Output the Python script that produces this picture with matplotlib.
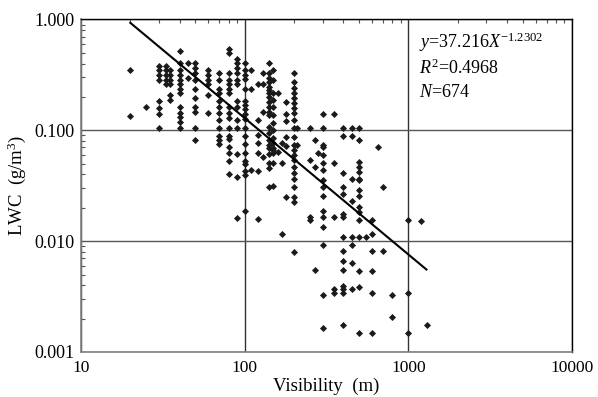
import numpy as np
import matplotlib.pyplot as plt
from matplotlib.ticker import LogLocator, FixedLocator, FixedFormatter, NullFormatter

plt.rcParams['font.family'] = 'Liberation Serif'
plt.rcParams['mathtext.fontset'] = 'custom'
plt.rcParams['mathtext.rm'] = 'Liberation Serif'
plt.rcParams['mathtext.it'] = 'Liberation Serif:italic'

# visibility classes (m) and the LWC values (g/m3) read in each column
vis = [20, 25, 30, 33, 35, 40, 45, 50, 60, 70, 80, 90, 100, 110, 120, 130,
       140, 150, 160, 170, 180, 200, 210, 250, 270, 280, 300, 350, 400, 450,
       500, 550, 600, 650, 700, 800, 1000, 1200, 1300]
lwc = [
    [0.348, 0.135],
    [0.162],
    [0.383, 0.348, 0.315, 0.286, 0.185, 0.160, 0.140, 0.105],
    [0.383, 0.348, 0.315, 0.286, 0.262],
    [0.348, 0.315, 0.286, 0.262, 0.210, 0.188],
    [0.516, 0.402, 0.348, 0.315, 0.286, 0.262, 0.237, 0.216, 0.162, 0.143,
     0.132, 0.119, 0.105],
    [0.402, 0.294],
    [0.402, 0.365, 0.327, 0.286, 0.237, 0.197, 0.162, 0.147, 0.105, 0.082],
    [0.348, 0.315, 0.286, 0.262, 0.207, 0.143],
    [0.331, 0.286, 0.237, 0.216, 0.185, 0.163, 0.143, 0.124, 0.105, 0.088,
     0.082, 0.076],
    [0.538, 0.495, 0.331, 0.286, 0.262, 0.237, 0.216, 0.162, 0.143, 0.128,
     0.105, 0.088, 0.084, 0.071, 0.062, 0.053, 0.040],
    [0.437, 0.402, 0.365, 0.331, 0.286, 0.262, 0.185, 0.162, 0.124, 0.105,
     0.061, 0.038, 0.0163],
    [0.405, 0.350, 0.315, 0.290, 0.236, 0.184, 0.169, 0.156, 0.141, 0.127,
     0.105, 0.089, 0.075, 0.0624, 0.0529, 0.0497, 0.0429, 0.0395, 0.0187],
    [0.350, 0.236, 0.0438],
    [0.261, 0.124, 0.091, 0.0767, 0.0624, 0.0429, 0.016],
    [0.327, 0.261, 0.145, 0.0578],
    [0.402, 0.327, 0.294, 0.274, 0.247, 0.231, 0.216, 0.199, 0.181, 0.164,
     0.145, 0.138, 0.108, 0.0943, 0.0817, 0.0731, 0.0688, 0.0611, 0.0510,
     0.0454, 0.031],
    [0.350, 0.287, 0.216, 0.188, 0.164, 0.138, 0.116, 0.101, 0.0846, 0.0767,
     0.0688, 0.0664, 0.0619, 0.0510, 0.0314],
    [0.216, 0.064],
    [0.0767, 0.0510, 0.0116],
    [0.181, 0.141, 0.122, 0.087, 0.072, 0.0252],
    [0.327, 0.274, 0.239, 0.216, 0.195, 0.176, 0.159, 0.143, 0.124, 0.105,
     0.0879, 0.0736, 0.0664, 0.0598, 0.054, 0.047, 0.0409, 0.0362, 0.031,
     0.0252, 0.0227, 0.0080],
    [0.105, 0.0736],
    [0.105, 0.054, 0.0164, 0.0155],
    [0.0817, 0.047, 0.0055],
    [0.0619],
    [0.141, 0.105, 0.0736, 0.0703, 0.0598, 0.0504, 0.0438, 0.0356, 0.031,
     0.0255, 0.0188, 0.0164, 0.0133, 0.0093, 0.0033, 0.00163],
    [0.141, 0.0504, 0.0164, 0.0037, 0.0034],
    [0.105, 0.089, 0.0409, 0.031, 0.0264, 0.0176, 0.0164, 0.011, 0.0082,
     0.0066, 0.0055, 0.0039, 0.0037, 0.0034, 0.00175],
    [0.105, 0.089, 0.0362, 0.023, 0.011, 0.0093, 0.0063, 0.0037],
    [0.105, 0.0817, 0.0521, 0.047, 0.0423, 0.0362, 0.0356, 0.0289, 0.0255,
     0.0202, 0.0184, 0.0155, 0.0108, 0.0054, 0.00387, 0.00147],
    [0.0108],
    [0.0155, 0.0116, 0.0082, 0.0054, 0.0034, 0.00147],
    [0.0703],
    [0.031, 0.0082],
    [0.0033, 0.00206],
    [0.0155, 0.0034, 0.00147],
    [0.0151],
    [0.00175],
]

# power-law fit shown on the chart: y = a * x^b
fit_a = 37.216
fit_b = -1.2302
fit_x = np.array([20, 1290])

x_pts = np.concatenate([[v] * len(c) for v, c in zip(vis, lwc)])
y_pts = np.concatenate(lwc)

fig = plt.figure(figsize=(5.98, 3.97), dpi=100)
ax = fig.add_axes([0.1355, 0.1134, 0.8210, 0.8375])

ax.scatter(x_pts, y_pts, marker='D', s=13, c='#1a1a1a', linewidths=0, zorder=3)
ax.plot(fit_x, fit_a * fit_x ** fit_b, color='black', lw=1.5, zorder=4)

ax.set_xscale('log')
ax.set_yscale('log')
ax.set_xlim(10, 10000)
ax.set_ylim(0.001, 1)

ax.xaxis.set_major_locator(FixedLocator([10, 100, 1000, 10000]))
ax.xaxis.set_major_formatter(FixedFormatter(['10', '100', '1000', '10000']))
ax.yaxis.set_major_locator(FixedLocator([0.001, 0.01, 0.1, 1]))
ax.yaxis.set_major_formatter(FixedFormatter(['0.001', '0.010', '0.100', '1.000']))
ax.xaxis.set_minor_locator(LogLocator(base=10, subs=np.arange(2, 10)))
ax.yaxis.set_minor_locator(LogLocator(base=10, subs=np.arange(2, 10)))
ax.xaxis.set_minor_formatter(NullFormatter())
ax.yaxis.set_minor_formatter(NullFormatter())

ax.tick_params(which='major', length=0)
ax.tick_params(axis='x', which='major', pad=6, labelsize=12.5)
ax.tick_params(axis='y', which='major', pad=5, labelsize=13)
ax.tick_params(which='minor', direction='in', length=3, width=0.8,
               left=True, top=True, bottom=False, right=False, color='#555555')

ax.grid(True, axis='x', which='major', color='#333333', lw=1.0, zorder=1)
ax.grid(True, axis='y', which='major', color='#555555', lw=1.0, zorder=1)
ax.set_axisbelow(True)

for side in ['left', 'bottom']:
    ax.spines[side].set_color('#808080')
    ax.spines[side].set_linewidth(1.2)
for side in ['right', 'top']:
    ax.spines[side].set_color('black')
    ax.spines[side].set_linewidth(1.0)

ax.set_xlabel('Visibility  (m)', fontsize=13.5, labelpad=1)
ax.set_ylabel('LWC  (g/m$^3$)', fontsize=13.5, labelpad=4)

ax.text(0.688, 0.932, r'$y$=37.216$X^{-1.2302}$', transform=ax.transAxes,
        fontsize=13, va='center')
ax.text(0.688, 0.854, r'$R^2$=0.4968', transform=ax.transAxes,
        fontsize=13, va='center')
ax.text(0.688, 0.780, r'$N$=674', transform=ax.transAxes,
        fontsize=13, va='center')

fig.savefig('out.png', dpi=100)
